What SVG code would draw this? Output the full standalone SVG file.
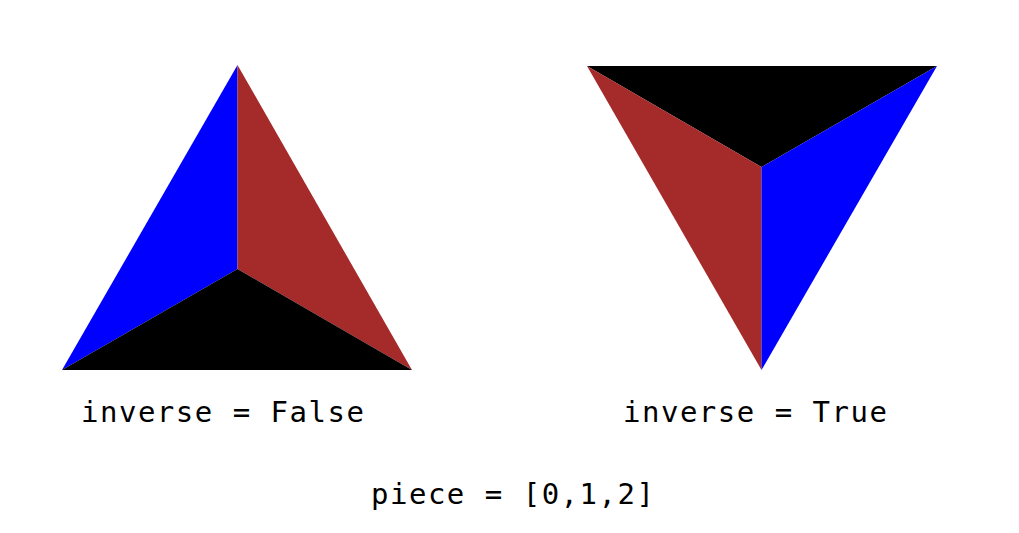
<svg xmlns="http://www.w3.org/2000/svg" width="1019" height="533" viewBox="0 0 1019 533">
<style>
.lbl{font-family:"DejaVu Sans Mono","Liberation Mono",monospace;font-size:29px;letter-spacing:1.5px;fill:#000}
</style>
<rect width="1019" height="533" fill="#fff"/>
<g id="left-triangle">
<polygon points="237.5,65 237.5,269 62,370" fill="#0000ff"/>
<polygon points="237.5,65 412,370 237.5,269" fill="#a52a2a"/>
<polygon points="62,370 237.5,269 412,370" fill="#000"/>
</g>
<g id="right-triangle">
<polygon points="587,66 937,66 761.5,167" fill="#000"/>
<polygon points="587,66 761.5,167 761.5,370" fill="#a52a2a"/>
<polygon points="937,66 761.5,370 761.5,167" fill="#0000ff"/>
</g>
<g id="labels">
<text class="lbl" x="81" y="422">inverse = False</text>
<text class="lbl" x="623" y="422">inverse = True</text>
<text class="lbl" x="371" y="504">piece = [0,1,2]</text>
</g>
<g id="connectors"/>
</svg>
